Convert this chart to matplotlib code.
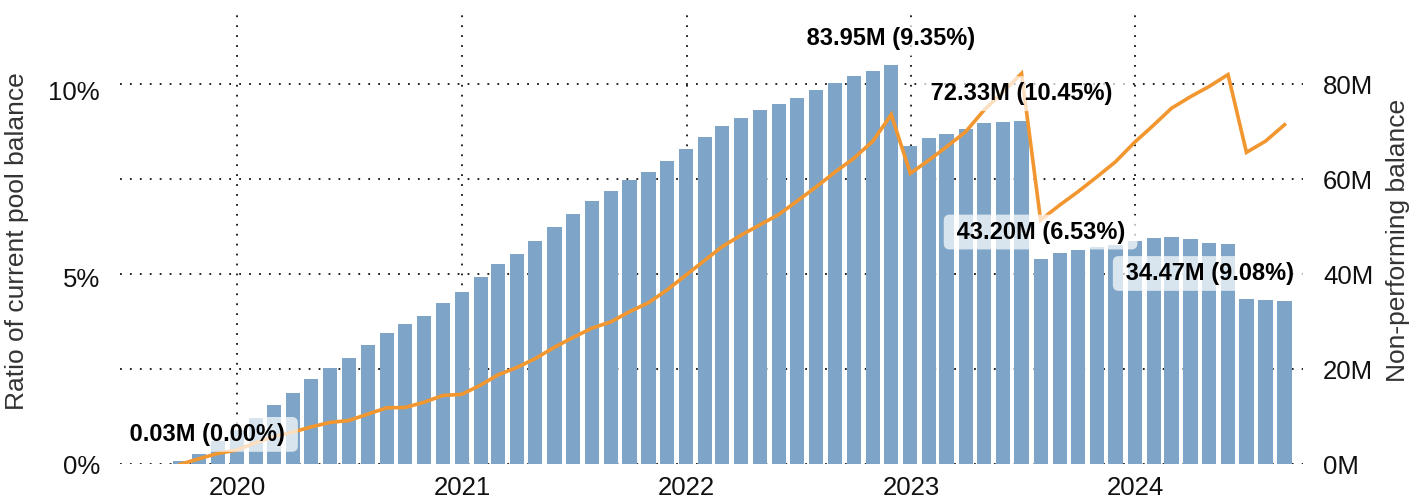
import matplotlib
matplotlib.use("Agg")
import matplotlib.pyplot as plt
import matplotlib.dates as mdates
from matplotlib.ticker import FixedLocator, FuncFormatter
import pandas as pd

# ---------------- data ----------------
months = pd.date_range("2019-09-30", periods=60, freq="ME")

balance_m = [0.6, 2.17, 4.9, 7.2, 9.75, 12.5, 15.0, 17.96, 20.3, 22.4,
             25.1, 27.6, 29.5, 31.2, 34.0, 36.3, 39.4, 42.2, 44.3, 47.0,
             50.0, 52.7, 55.4, 57.5, 59.9, 61.5, 63.9, 66.4, 68.9, 71.3,
             72.9, 74.6, 75.9, 77.1, 78.8, 80.3, 81.7, 82.8, 83.95, 67.0,
             68.7, 69.6, 70.6, 71.8, 72.1, 72.33, 43.2, 44.5, 45.1, 45.8,
             46.2, 47.0, 47.6, 47.8, 47.4, 46.6, 46.4, 34.8, 34.6, 34.47]

ratio_pct = [0.00, 0.15, 0.29, 0.38, 0.58, 0.74, 0.86, 1.00, 1.12, 1.17,
             1.34, 1.51, 1.52, 1.66, 1.84, 1.87, 2.12, 2.39, 2.59, 2.83,
             3.13, 3.39, 3.64, 3.81, 4.08, 4.32, 4.66, 5.06, 5.46, 5.82,
             6.13, 6.40, 6.68, 7.04, 7.42, 7.82, 8.18, 8.64, 9.35, 7.78,
             8.14, 8.49, 8.89, 9.47, 9.96, 10.45, 6.53, 6.93, 7.29, 7.69,
             8.09, 8.61, 9.07, 9.52, 9.83, 10.10, 10.42, 8.34, 8.64, 9.08]

label_index = [0, 38, 45, 46, 59]
label_text = ["0.03M (0.00%)", "83.95M (9.35%)", "72.33M (10.45%)",
              "43.20M (6.53%)", "34.47M (9.08%)"]
label_dx = [19.8, 0, 0, 0, -54]   # horizontal shift in points

year_ticks = ["2020-01-01", "2021-01-01", "2022-01-01", "2023-01-01", "2024-01-01"]
year_labels = ["2020", "2021", "2022", "2023", "2024"]
balance_ticks = [0, 20, 40, 60, 80]
ratio_ticks = [0, 5, 10]

# ---------------- style ----------------
FONT = "Liberation Sans"
plt.rcParams["font.family"] = [FONT, "DejaVu Sans"]
BAR_C = "#7ea5c7"
LINE_C = "#f29630"
GRID_KW = dict(color="#111111", linestyle=(0, (1, 4.5)), linewidth=1.3)

W, H = 1426, 500
fig = plt.figure(figsize=(W / 100, H / 100), dpi=100)
left, right, top, bottom = 120, 1303, 13, 464.3
ax_bar = fig.add_axes([left / W, (H - bottom) / H, (right - left) / W, (bottom - top) / H])
ax_line = ax_bar.twinx()

# bars (right axis)
ax_bar.bar(months, balance_m, width=23, color=BAR_C, zorder=2)
ax_bar.set_ylim(0, 95)
ax_bar.set_xlim(pd.Timestamp("2019-06-24"), pd.Timestamp("2024-09-30"))
ax_bar.set_axisbelow(True)
ax_bar.yaxis.set_major_locator(FixedLocator(balance_ticks))
ax_bar.yaxis.set_major_formatter(FuncFormatter(lambda v, p: f"{v:.0f}M"))
ax_bar.set_xticks([pd.Timestamp(t) for t in year_ticks])
ax_bar.set_xticklabels(year_labels)
ax_bar.grid(True, axis="both", **GRID_KW)
ax_bar.yaxis.tick_right()

# line (left axis)
ax_line.plot(months, ratio_pct, color=LINE_C, linewidth=2.6, zorder=3,
             solid_joinstyle="miter")
ax_line.set_ylim(0, 451.3 / 37.4)
ax_line.yaxis.set_major_locator(FixedLocator(ratio_ticks))
ax_line.yaxis.set_major_formatter(FuncFormatter(lambda v, p: f"{v:.0f}%"))
ax_line.yaxis.tick_left()

for a in (ax_bar, ax_line):
    for s in a.spines.values():
        s.set_visible(False)
    a.tick_params(length=0, labelsize=18.5, labelcolor="#111111")
ax_bar.tick_params(axis="y", pad=14.4)
ax_line.tick_params(axis="y", pad=14.4)
ax_bar.tick_params(axis="x", pad=8.5)

# annotations
for i, txt, dx in zip(label_index, label_text, label_dx):
    ax_line.annotate(" " + txt + " ", xy=(mdates.date2num(months[i]), balance_m[i]),
                     xycoords=ax_bar.transData,
                     xytext=(dx, 14.8), textcoords="offset points",
                     ha="center", va="baseline", fontsize=17, fontweight="bold",
                     color="#000000", zorder=5,
                     bbox=dict(boxstyle="round,pad=0.25", facecolor="white",
                               edgecolor="none", alpha=0.7))

# axis titles
fig.text(17 / W, 1 - 241 / H, "Ratio of current pool balance", rotation=90,
         ha="center", va="center", fontsize=19, color="#333333")
fig.text(1398 / W, 1 - 240 / H, "Non-performing balance", rotation=90,
         ha="center", va="center", fontsize=19, color="#333333")

fig.savefig("out.png", dpi=100)
